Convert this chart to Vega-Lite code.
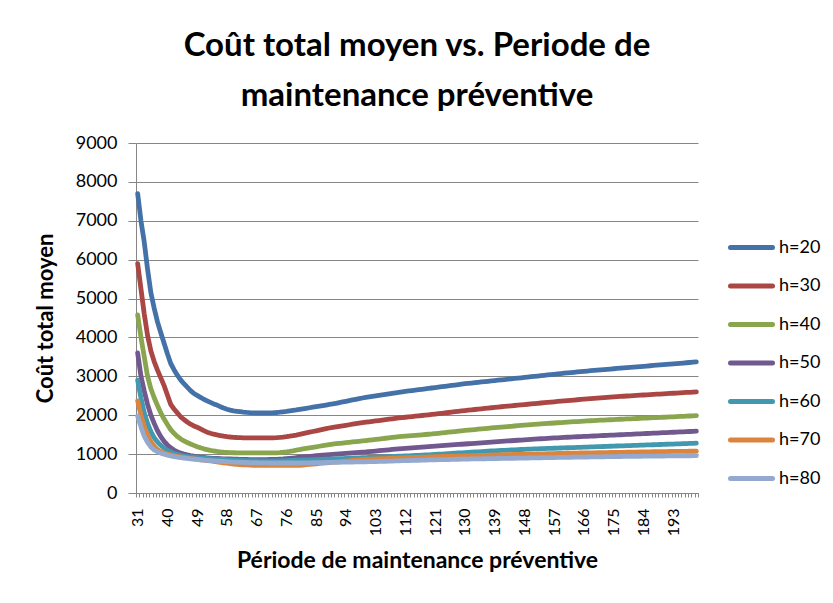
{
  "$schema": "https://vega.github.io/schema/vega-lite/v6.json",
  "width": 562,
  "height": 350,
  "autosize": {"type": "none"},
  "padding": {"left": 136, "top": 143, "right": 135, "bottom": 110},
  "background": "white",
  "title": {
    "text": ["Coût total moyen vs. Periode de", "maintenance préventive"],
    "font": "Lato", "fontSize": 33, "fontWeight": "bold", "color": "black",
    "anchor": "middle", "lineHeight": 50, "offset": 21
  },
  "data": {"values": [
{"T":31,"h=20":7700,"h=30":5900,"h=40":4580,"h=50":3600,"h=60":2900,"h=70":2370,"h=80":1980},
{"T":32,"h=20":7000,"h=30":5250,"h=40":4000,"h=50":3000,"h=60":2450,"h=70":2000,"h=80":1700},
{"T":33,"h=20":6450,"h=30":4600,"h=40":3500,"h=50":2620,"h=60":2060,"h=70":1700,"h=80":1460},
{"T":34,"h=20":5750,"h=30":4050,"h=40":3000,"h=50":2280,"h=60":1790,"h=70":1480,"h=80":1300},
{"T":35,"h=20":5150,"h=30":3650,"h=40":2680,"h=50":2000,"h=60":1580,"h=70":1320,"h=80":1185},
{"T":36,"h=20":4750,"h=30":3380,"h=40":2450,"h=50":1790,"h=60":1420,"h=70":1200,"h=80":1110},
{"T":37,"h=20":4400,"h=30":3160,"h=40":2250,"h=50":1600,"h=60":1310,"h=70":1120,"h=80":1060},
{"T":38,"h=20":4120,"h=30":2960,"h=40":2060,"h=50":1450,"h=60":1225,"h=70":1065,"h=80":1025},
{"T":39,"h=20":3850,"h=30":2760,"h=40":1900,"h=50":1330,"h=60":1160,"h=70":1030,"h=80":998},
{"T":40,"h=20":3580,"h=30":2520,"h=40":1760,"h=50":1235,"h=60":1100,"h=70":1002,"h=80":975},
{"T":41,"h=20":3330,"h=30":2280,"h=40":1630,"h=50":1160,"h=60":1055,"h=70":982,"h=80":955},
{"T":42,"h=20":3170,"h=30":2160,"h=40":1535,"h=50":1105,"h=60":1022,"h=70":962,"h=80":938},
{"T":43,"h=20":3030,"h=30":2060,"h=40":1455,"h=50":1060,"h=60":997,"h=70":945,"h=80":923},
{"T":44,"h=20":2910,"h=30":1960,"h=40":1390,"h=50":1025,"h=60":976,"h=70":930,"h=80":910},
{"T":45,"h=20":2810,"h=30":1890,"h=40":1340,"h=50":1000,"h=60":958,"h=70":915,"h=80":899},
{"T":46,"h=20":2720,"h=30":1825,"h=40":1298,"h=50":980,"h=60":944,"h=70":901,"h=80":889},
{"T":47,"h=20":2630,"h=30":1770,"h=40":1260,"h=50":962,"h=60":932,"h=70":888,"h=80":879},
{"T":48,"h=20":2560,"h=30":1725,"h=40":1225,"h=50":947,"h=60":922,"h=70":876,"h=80":870},
{"T":49,"h=20":2510,"h=30":1690,"h=40":1192,"h=50":934,"h=60":913,"h=70":865,"h=80":862},
{"T":50,"h=20":2460,"h=30":1650,"h=40":1162,"h=50":923,"h=60":905,"h=70":855,"h=80":854},
{"T":51,"h=20":2410,"h=30":1605,"h=40":1136,"h=50":914,"h=60":898,"h=70":845,"h=80":847},
{"T":52,"h=20":2370,"h=30":1565,"h=40":1114,"h=50":906,"h=60":891,"h=70":835,"h=80":840},
{"T":53,"h=20":2330,"h=30":1535,"h=40":1096,"h=50":899,"h=60":884,"h=70":825,"h=80":834},
{"T":54,"h=20":2290,"h=30":1512,"h=40":1080,"h=50":893,"h=60":878,"h=70":813,"h=80":828},
{"T":55,"h=20":2260,"h=30":1494,"h=40":1068,"h=50":888,"h=60":872,"h=70":801,"h=80":822},
{"T":56,"h=20":2220,"h=30":1478,"h=40":1058,"h=50":884,"h=60":866,"h=70":789,"h=80":816},
{"T":57,"h=20":2185,"h=30":1463,"h=40":1050,"h=50":880,"h=60":861,"h=70":777,"h=80":810},
{"T":58,"h=20":2155,"h=30":1450,"h=40":1044,"h=50":877,"h=60":856,"h=70":766,"h=80":805},
{"T":59,"h=20":2130,"h=30":1440,"h=40":1039,"h=50":874,"h=60":851,"h=70":755,"h=80":800},
{"T":60,"h=20":2110,"h=30":1432,"h=40":1035,"h=50":871,"h=60":847,"h=70":746,"h=80":796},
{"T":61,"h=20":2100,"h=30":1427,"h=40":1030,"h=50":868,"h=60":844,"h=70":738,"h=80":793},
{"T":62,"h=20":2090,"h=30":1424,"h=40":1030,"h=50":865,"h=60":841,"h=70":732,"h=80":790},
{"T":63,"h=20":2080,"h=30":1420,"h=40":1030,"h=50":863,"h=60":838,"h=70":726,"h=80":787},
{"T":64,"h=20":2072,"h=30":1420,"h=40":1030,"h=50":861,"h=60":835,"h=70":721,"h=80":784},
{"T":65,"h=20":2066,"h=30":1420,"h=40":1030,"h=50":860,"h=60":833,"h=70":717,"h=80":782},
{"T":66,"h=20":2062,"h=30":1420,"h=40":1030,"h=50":860,"h=60":831,"h=70":712,"h=80":780},
{"T":67,"h=20":2060,"h=30":1420,"h=40":1030,"h=50":860,"h=60":829,"h=70":712,"h=80":778},
{"T":68,"h=20":2060,"h=30":1420,"h=40":1030,"h=50":860,"h=60":828,"h=70":712,"h=80":776},
{"T":69,"h=20":2060,"h=30":1420,"h=40":1030,"h=50":860,"h=60":827,"h=70":712,"h=80":774},
{"T":70,"h=20":2060,"h=30":1420,"h=40":1030,"h=50":860,"h=60":826,"h=70":712,"h=80":773},
{"T":71,"h=20":2062,"h=30":1420,"h=40":1030,"h=50":861,"h=60":826,"h=70":712,"h=80":772},
{"T":72,"h=20":2065,"h=30":1420,"h=40":1030,"h=50":863,"h=60":826,"h=70":712,"h=80":772},
{"T":73,"h=20":2070,"h=30":1424,"h=40":1034,"h=50":866,"h=60":827,"h=70":712,"h=80":772},
{"T":74,"h=20":2078,"h=30":1430,"h=40":1040,"h=50":870,"h=60":828,"h=70":712,"h=80":772},
{"T":75,"h=20":2088,"h=30":1438,"h=40":1048,"h=50":875,"h=60":830,"h=70":712,"h=80":772},
{"T":76,"h=20":2098,"h=30":1448,"h=40":1058,"h=50":882,"h=60":833,"h=70":712,"h=80":772},
{"T":77,"h=20":2110,"h=30":1460,"h=40":1070,"h=50":890,"h=60":836,"h=70":712,"h=80":772},
{"T":78,"h=20":2122,"h=30":1474,"h=40":1084,"h=50":899,"h=60":839,"h=70":712,"h=80":772},
{"T":79,"h=20":2135,"h=30":1490,"h=40":1100,"h=50":909,"h=60":842,"h=70":712,"h=80":772},
{"T":80,"h=20":2150,"h=30":1510,"h=40":1118,"h=50":920,"h=60":845,"h=70":712,"h=80":772},
{"T":81,"h=20":2164,"h=30":1528,"h=40":1132,"h=50":928,"h=60":848,"h=70":720,"h=80":774},
{"T":82,"h=20":2178,"h=30":1546,"h=40":1146,"h=50":935,"h=60":851,"h=70":728,"h=80":775},
{"T":83,"h=20":2192,"h=30":1564,"h=40":1160,"h=50":943,"h=60":854,"h=70":736,"h=80":777},
{"T":84,"h=20":2206,"h=30":1582,"h=40":1174,"h=50":950,"h=60":857,"h=70":744,"h=80":778},
{"T":85,"h=20":2220,"h=30":1600,"h=40":1188,"h=50":958,"h=60":860,"h=70":752,"h=80":780},
{"T":86,"h=20":2234,"h=30":1618,"h=40":1202,"h=50":965,"h=60":863,"h=70":760,"h=80":781},
{"T":87,"h=20":2248,"h=30":1636,"h=40":1216,"h=50":973,"h=60":866,"h=70":768,"h=80":783},
{"T":88,"h=20":2262,"h=30":1654,"h=40":1230,"h=50":980,"h=60":869,"h=70":776,"h=80":784},
{"T":89,"h=20":2276,"h=30":1672,"h=40":1244,"h=50":988,"h=60":872,"h=70":784,"h=80":786},
{"T":90,"h=20":2290,"h=30":1690,"h=40":1258,"h=50":995,"h=60":875,"h=70":792,"h=80":787},
{"T":91,"h=20":2307,"h=30":1703,"h=40":1267,"h=50":1001,"h=60":879,"h=70":799,"h=80":789},
{"T":92,"h=20":2324,"h=30":1716,"h=40":1276,"h=50":1007,"h=60":882,"h=70":806,"h=80":790},
{"T":93,"h=20":2341,"h=30":1729,"h=40":1285,"h=50":1013,"h=60":886,"h=70":814,"h=80":792},
{"T":94,"h=20":2358,"h=30":1742,"h=40":1294,"h=50":1019,"h=60":889,"h=70":821,"h=80":793},
{"T":95,"h=20":2375,"h=30":1755,"h=40":1303,"h=50":1025,"h=60":893,"h=70":828,"h=80":795},
{"T":96,"h=20":2392,"h=30":1768,"h=40":1312,"h=50":1031,"h=60":896,"h=70":836,"h=80":796},
{"T":97,"h=20":2409,"h=30":1781,"h=40":1321,"h=50":1037,"h=60":900,"h=70":843,"h=80":798},
{"T":98,"h=20":2426,"h=30":1794,"h=40":1330,"h=50":1043,"h=60":903,"h=70":850,"h=80":799},
{"T":99,"h=20":2443,"h=30":1807,"h=40":1339,"h=50":1049,"h=60":907,"h=70":858,"h=80":801},
{"T":100,"h=20":2460,"h=30":1820,"h=40":1348,"h=50":1055,"h=60":910,"h=70":865,"h=80":802},
{"T":101,"h=20":2473,"h=30":1831,"h=40":1358,"h=50":1063,"h=60":914,"h=70":869,"h=80":805},
{"T":102,"h=20":2486,"h=30":1842,"h=40":1368,"h=50":1071,"h=60":917,"h=70":872,"h=80":807},
{"T":103,"h=20":2499,"h=30":1853,"h=40":1378,"h=50":1079,"h=60":921,"h=70":876,"h=80":810},
{"T":104,"h=20":2512,"h=30":1864,"h=40":1388,"h=50":1087,"h=60":924,"h=70":879,"h=80":812},
{"T":105,"h=20":2525,"h=30":1875,"h=40":1398,"h=50":1095,"h=60":928,"h=70":883,"h=80":815},
{"T":106,"h=20":2538,"h=30":1886,"h=40":1408,"h=50":1103,"h=60":931,"h=70":886,"h=80":817},
{"T":107,"h=20":2551,"h=30":1897,"h=40":1418,"h=50":1111,"h=60":935,"h=70":890,"h=80":820},
{"T":108,"h=20":2564,"h=30":1908,"h=40":1428,"h=50":1119,"h=60":938,"h=70":893,"h=80":822},
{"T":109,"h=20":2577,"h=30":1919,"h=40":1438,"h=50":1127,"h=60":942,"h=70":897,"h=80":825},
{"T":110,"h=20":2590,"h=30":1930,"h=40":1448,"h=50":1135,"h=60":945,"h=70":900,"h=80":827},
{"T":111,"h=20":2601,"h=30":1939,"h=40":1455,"h=50":1142,"h=60":949,"h=70":903,"h=80":830},
{"T":112,"h=20":2612,"h=30":1948,"h=40":1462,"h=50":1148,"h=60":953,"h=70":906,"h=80":832},
{"T":113,"h=20":2623,"h=30":1957,"h=40":1469,"h=50":1155,"h=60":957,"h=70":909,"h=80":835},
{"T":114,"h=20":2634,"h=30":1966,"h=40":1476,"h=50":1161,"h=60":961,"h=70":912,"h=80":837},
{"T":115,"h=20":2645,"h=30":1975,"h=40":1483,"h=50":1168,"h=60":965,"h=70":915,"h=80":840},
{"T":116,"h=20":2656,"h=30":1984,"h=40":1490,"h=50":1174,"h=60":969,"h=70":918,"h=80":842},
{"T":117,"h=20":2667,"h=30":1993,"h=40":1497,"h=50":1181,"h=60":973,"h=70":921,"h=80":845},
{"T":118,"h=20":2678,"h=30":2002,"h=40":1504,"h=50":1187,"h=60":977,"h=70":924,"h=80":847},
{"T":119,"h=20":2689,"h=30":2011,"h=40":1511,"h=50":1194,"h=60":981,"h=70":927,"h=80":850},
{"T":120,"h=20":2700,"h=30":2020,"h=40":1518,"h=50":1200,"h=60":985,"h=70":930,"h=80":852},
{"T":121,"h=20":2711,"h=30":2030,"h=40":1527,"h=50":1206,"h=60":990,"h=70":932,"h=80":854},
{"T":122,"h=20":2722,"h=30":2040,"h=40":1536,"h=50":1212,"h=60":996,"h=70":935,"h=80":856},
{"T":123,"h=20":2733,"h=30":2050,"h=40":1545,"h=50":1218,"h=60":1001,"h=70":938,"h=80":858},
{"T":124,"h=20":2744,"h=30":2060,"h=40":1554,"h=50":1224,"h=60":1007,"h=70":940,"h=80":860},
{"T":125,"h=20":2755,"h=30":2070,"h=40":1563,"h=50":1230,"h=60":1012,"h=70":942,"h=80":862},
{"T":126,"h=20":2766,"h=30":2080,"h=40":1572,"h=50":1236,"h=60":1018,"h=70":945,"h=80":864},
{"T":127,"h=20":2777,"h=30":2090,"h=40":1581,"h=50":1242,"h=60":1023,"h=70":948,"h=80":866},
{"T":128,"h=20":2788,"h=30":2100,"h=40":1590,"h=50":1248,"h=60":1029,"h=70":950,"h=80":868},
{"T":129,"h=20":2799,"h=30":2110,"h=40":1599,"h=50":1254,"h=60":1034,"h=70":952,"h=80":870},
{"T":130,"h=20":2810,"h=30":2120,"h=40":1608,"h=50":1260,"h=60":1040,"h=70":955,"h=80":872},
{"T":131,"h=20":2819,"h=30":2129,"h=40":1616,"h=50":1266,"h=60":1045,"h=70":957,"h=80":873},
{"T":132,"h=20":2828,"h=30":2138,"h=40":1624,"h=50":1272,"h=60":1050,"h=70":960,"h=80":875},
{"T":133,"h=20":2837,"h=30":2147,"h=40":1632,"h=50":1278,"h=60":1055,"h=70":962,"h=80":876},
{"T":134,"h=20":2846,"h=30":2156,"h=40":1640,"h=50":1284,"h=60":1060,"h=70":965,"h=80":878},
{"T":135,"h=20":2855,"h=30":2165,"h=40":1648,"h=50":1290,"h=60":1065,"h=70":967,"h=80":879},
{"T":136,"h=20":2864,"h=30":2174,"h=40":1656,"h=50":1296,"h=60":1070,"h=70":970,"h=80":881},
{"T":137,"h=20":2873,"h=30":2183,"h=40":1664,"h=50":1302,"h=60":1075,"h=70":972,"h=80":882},
{"T":138,"h=20":2882,"h=30":2192,"h=40":1672,"h=50":1308,"h=60":1080,"h=70":975,"h=80":884},
{"T":139,"h=20":2891,"h=30":2201,"h=40":1680,"h=50":1314,"h=60":1085,"h=70":977,"h=80":885},
{"T":140,"h=20":2900,"h=30":2210,"h=40":1688,"h=50":1320,"h=60":1090,"h=70":980,"h=80":887},
{"T":141,"h=20":2909,"h=30":2218,"h=40":1695,"h=50":1326,"h=60":1094,"h=70":982,"h=80":888},
{"T":142,"h=20":2918,"h=30":2226,"h=40":1702,"h=50":1332,"h=60":1098,"h=70":984,"h=80":890},
{"T":143,"h=20":2927,"h=30":2234,"h=40":1709,"h=50":1338,"h=60":1102,"h=70":986,"h=80":891},
{"T":144,"h=20":2936,"h=30":2242,"h=40":1716,"h=50":1344,"h=60":1106,"h=70":988,"h=80":893},
{"T":145,"h=20":2945,"h=30":2250,"h=40":1723,"h=50":1350,"h=60":1110,"h=70":990,"h=80":894},
{"T":146,"h=20":2954,"h=30":2258,"h=40":1730,"h=50":1356,"h=60":1114,"h=70":992,"h=80":896},
{"T":147,"h=20":2963,"h=30":2266,"h=40":1737,"h=50":1362,"h=60":1118,"h=70":994,"h=80":897},
{"T":148,"h=20":2972,"h=30":2274,"h=40":1744,"h=50":1368,"h=60":1122,"h=70":996,"h=80":899},
{"T":149,"h=20":2981,"h=30":2282,"h=40":1751,"h=50":1374,"h=60":1126,"h=70":998,"h=80":900},
{"T":150,"h=20":2990,"h=30":2290,"h=40":1758,"h=50":1380,"h=60":1130,"h=70":1000,"h=80":902},
{"T":151,"h=20":2999,"h=30":2298,"h=40":1764,"h=50":1385,"h=60":1133,"h=70":1002,"h=80":903},
{"T":152,"h=20":3008,"h=30":2306,"h=40":1770,"h=50":1390,"h=60":1136,"h=70":1004,"h=80":905},
{"T":153,"h=20":3017,"h=30":2314,"h=40":1776,"h=50":1395,"h=60":1139,"h=70":1006,"h=80":906},
{"T":154,"h=20":3026,"h=30":2322,"h=40":1782,"h=50":1400,"h=60":1142,"h=70":1008,"h=80":908},
{"T":155,"h=20":3035,"h=30":2330,"h=40":1788,"h=50":1405,"h=60":1145,"h=70":1010,"h=80":909},
{"T":156,"h=20":3044,"h=30":2338,"h=40":1794,"h=50":1410,"h=60":1148,"h=70":1012,"h=80":911},
{"T":157,"h=20":3053,"h=30":2346,"h=40":1800,"h=50":1415,"h=60":1151,"h=70":1014,"h=80":912},
{"T":158,"h=20":3062,"h=30":2354,"h=40":1806,"h=50":1420,"h=60":1154,"h=70":1016,"h=80":914},
{"T":159,"h=20":3071,"h=30":2362,"h=40":1812,"h=50":1425,"h=60":1157,"h=70":1018,"h=80":915},
{"T":160,"h=20":3080,"h=30":2370,"h=40":1818,"h=50":1430,"h=60":1160,"h=70":1020,"h=80":917},
{"T":161,"h=20":3088,"h=30":2377,"h=40":1823,"h=50":1434,"h=60":1163,"h=70":1022,"h=80":918},
{"T":162,"h=20":3096,"h=30":2384,"h=40":1828,"h=50":1438,"h=60":1166,"h=70":1023,"h=80":919},
{"T":163,"h=20":3104,"h=30":2391,"h=40":1833,"h=50":1442,"h=60":1169,"h=70":1025,"h=80":921},
{"T":164,"h=20":3112,"h=30":2398,"h=40":1838,"h=50":1446,"h=60":1172,"h=70":1026,"h=80":922},
{"T":165,"h=20":3120,"h=30":2405,"h=40":1843,"h=50":1450,"h=60":1175,"h=70":1028,"h=80":923},
{"T":166,"h=20":3128,"h=30":2412,"h=40":1848,"h=50":1454,"h=60":1178,"h=70":1029,"h=80":925},
{"T":167,"h=20":3136,"h=30":2419,"h=40":1853,"h=50":1458,"h=60":1181,"h=70":1031,"h=80":926},
{"T":168,"h=20":3144,"h=30":2426,"h=40":1858,"h=50":1462,"h=60":1184,"h=70":1032,"h=80":927},
{"T":169,"h=20":3152,"h=30":2433,"h=40":1863,"h=50":1466,"h=60":1187,"h=70":1034,"h=80":929},
{"T":170,"h=20":3160,"h=30":2440,"h=40":1868,"h=50":1470,"h=60":1190,"h=70":1035,"h=80":930},
{"T":171,"h=20":3167,"h=30":2446,"h=40":1872,"h=50":1474,"h=60":1193,"h=70":1037,"h=80":931},
{"T":172,"h=20":3174,"h=30":2452,"h=40":1876,"h=50":1478,"h=60":1196,"h=70":1038,"h=80":932},
{"T":173,"h=20":3181,"h=30":2458,"h=40":1880,"h=50":1482,"h=60":1199,"h=70":1040,"h=80":934},
{"T":174,"h=20":3188,"h=30":2464,"h=40":1884,"h=50":1486,"h=60":1202,"h=70":1041,"h=80":935},
{"T":175,"h=20":3195,"h=30":2470,"h=40":1888,"h=50":1490,"h=60":1205,"h=70":1043,"h=80":936},
{"T":176,"h=20":3202,"h=30":2476,"h=40":1892,"h=50":1494,"h=60":1208,"h=70":1044,"h=80":937},
{"T":177,"h=20":3209,"h=30":2482,"h=40":1896,"h=50":1498,"h=60":1211,"h=70":1046,"h=80":938},
{"T":178,"h=20":3216,"h=30":2488,"h=40":1900,"h=50":1502,"h=60":1214,"h=70":1047,"h=80":940},
{"T":179,"h=20":3223,"h=30":2494,"h=40":1904,"h=50":1506,"h=60":1217,"h=70":1049,"h=80":941},
{"T":180,"h=20":3230,"h=30":2500,"h=40":1908,"h=50":1510,"h=60":1220,"h=70":1050,"h=80":942},
{"T":181,"h=20":3237,"h=30":2505,"h=40":1912,"h=50":1514,"h=60":1223,"h=70":1052,"h=80":943},
{"T":182,"h=20":3244,"h=30":2510,"h=40":1916,"h=50":1518,"h=60":1226,"h=70":1053,"h=80":944},
{"T":183,"h=20":3251,"h=30":2515,"h=40":1920,"h=50":1522,"h=60":1229,"h=70":1055,"h=80":945},
{"T":184,"h=20":3258,"h=30":2520,"h=40":1924,"h=50":1526,"h=60":1232,"h=70":1056,"h=80":946},
{"T":185,"h=20":3265,"h=30":2525,"h=40":1928,"h=50":1530,"h=60":1235,"h=70":1058,"h=80":947},
{"T":186,"h=20":3272,"h=30":2530,"h=40":1932,"h=50":1534,"h=60":1238,"h=70":1059,"h=80":948},
{"T":187,"h=20":3279,"h=30":2535,"h=40":1936,"h=50":1538,"h=60":1241,"h=70":1061,"h=80":949},
{"T":188,"h=20":3286,"h=30":2540,"h=40":1940,"h=50":1542,"h=60":1244,"h=70":1062,"h=80":950},
{"T":189,"h=20":3293,"h=30":2545,"h=40":1944,"h=50":1546,"h=60":1247,"h=70":1064,"h=80":951},
{"T":190,"h=20":3300,"h=30":2550,"h=40":1948,"h=50":1550,"h=60":1250,"h=70":1065,"h=80":952},
{"T":191,"h=20":3307,"h=30":2555,"h=40":1952,"h=50":1554,"h=60":1253,"h=70":1066,"h=80":953},
{"T":192,"h=20":3314,"h=30":2560,"h=40":1956,"h=50":1558,"h=60":1256,"h=70":1067,"h=80":954},
{"T":193,"h=20":3321,"h=30":2565,"h=40":1960,"h=50":1562,"h=60":1259,"h=70":1068,"h=80":954},
{"T":194,"h=20":3328,"h=30":2570,"h=40":1964,"h=50":1566,"h=60":1262,"h=70":1069,"h=80":955},
{"T":195,"h=20":3335,"h=30":2575,"h=40":1968,"h=50":1570,"h=60":1265,"h=70":1070,"h=80":956},
{"T":196,"h=20":3342,"h=30":2580,"h=40":1972,"h=50":1574,"h=60":1268,"h=70":1071,"h=80":957},
{"T":197,"h=20":3349,"h=30":2585,"h=40":1976,"h=50":1578,"h=60":1271,"h=70":1072,"h=80":958},
{"T":198,"h=20":3356,"h=30":2590,"h=40":1980,"h=50":1582,"h=60":1274,"h=70":1073,"h=80":958},
{"T":199,"h=20":3363,"h=30":2595,"h=40":1984,"h=50":1586,"h=60":1277,"h=70":1074,"h=80":959},
{"T":200,"h=20":3370,"h=30":2600,"h=40":1988,"h=50":1590,"h=60":1280,"h=70":1075,"h=80":960}
  ]},
  "transform": [
    {"fold": ["h=20", "h=30", "h=40", "h=50", "h=60", "h=70", "h=80"], "as": ["serie", "cout"]}
  ],
  "mark": {"type": "line", "strokeWidth": 4.8, "strokeCap": "round", "strokeJoin": "round"},
  "encoding": {
    "x": {
      "field": "T", "type": "ordinal",
      "scale": {"type": "band", "paddingInner": 0, "paddingOuter": 0},
      "axis": {
        "title": "Période de maintenance préventive",
        "titleFont": "Lato", "titleFontSize": 23, "titleFontWeight": "bold", "titleColor": "black",
        "titlePadding": 14,
        "labelAngle": -90, "labelFont": "Lato", "labelFontSize": 16, "labelColor": "black",
        "labelExpr": "(datum.value - 31) % 9 == 0 ? datum.label : ''",
        "labelOverlap": false, "labelBound": false, "labelPadding": 11,
        "tickBand": "extent", "tickSize": 4, "tickColor": "#868686", "tickWidth": 1,
        "domainColor": "#868686", "domainWidth": 1, "grid": false
      }
    },
    "y": {
      "field": "cout", "type": "quantitative",
      "scale": {"domain": [0, 9000], "nice": false},
      "axis": {
        "title": "Coût total moyen",
        "titleFont": "Lato", "titleFontSize": 22, "titleFontWeight": "bold", "titleColor": "black",
        "titlePadding": 18,
        "values": [0, 1000, 2000, 3000, 4000, 5000, 6000, 7000, 8000, 9000],
        "format": "d",
        "labelFont": "Lato", "labelFontSize": 18, "labelColor": "black", "labelPadding": 11,
        "tickSize": 8, "tickColor": "#868686", "domainColor": "#868686",
        "grid": true, "gridColor": "#868686", "gridWidth": 1
      }
    },
    "color": {
      "field": "serie", "type": "nominal",
      "scale": {
        "domain": ["h=20", "h=30", "h=40", "h=50", "h=60", "h=70", "h=80"],
        "range": ["#4472A8", "#AA4643", "#89A54E", "#71588F", "#4198AF", "#DB843D", "#93A9CF"]
      },
      "legend": {
        "orient": "none", "legendX": 592, "legendY": 81,
        "title": null,
        "symbolType": "stroke", "symbolSize": 1764, "symbolStrokeWidth": 5,
        "labelFont": "Lato", "labelFontSize": 18, "labelColor": "black",
        "labelOffset": 4, "rowPadding": 4.5,
        "encode": {"symbols": {"update": {"strokeCap": {"value": "round"}}}}
      }
    }
  },
  "config": {"view": {"stroke": null}}
}
